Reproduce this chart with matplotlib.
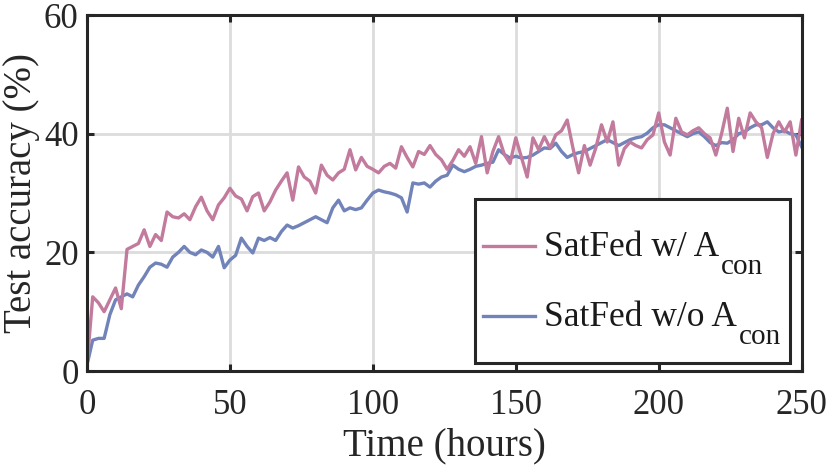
import numpy as np
import matplotlib
matplotlib.use("Agg")
import matplotlib.pyplot as plt
from matplotlib.patches import Rectangle
from matplotlib.transforms import IdentityTransform

plt.rcParams['font.family'] = ['Liberation Serif', 'DejaVu Serif']

# time in hours, one sample every 2 hours
tiempo = np.arange(0, 251, 2)

con_acon = [
    1.0, 12.5, 11.5, 10.0, 12.0, 14.0, 10.5, 20.5, 21.0, 21.5,
    23.8, 21.0, 23.0, 22.0, 26.8, 26.0, 25.8, 26.5, 25.5, 27.7,
    29.3, 27.0, 25.5, 28.0, 29.2, 30.8, 29.5, 29.0, 27.0, 29.4,
    30.0, 27.0, 28.5, 30.5, 32.0, 33.4, 28.8, 34.4, 32.7, 32.0,
    30.0, 34.7, 33.0, 32.2, 33.4, 34.0, 37.3, 33.9, 36.0, 34.5,
    34.0, 33.4, 34.5, 35.0, 34.2, 37.8, 36.0, 34.4, 37.0, 36.5,
    38.0, 36.5, 35.6, 34.0, 35.5, 37.3, 36.2, 37.8, 35.0, 39.5,
    33.4, 37.0, 39.5, 36.5, 35.0, 39.3, 36.0, 32.7, 39.3, 37.3,
    39.5, 37.6, 39.8, 40.5, 42.3, 37.6, 33.4, 38.0, 34.7, 37.6,
    41.5, 38.6, 42.0, 34.7, 37.5, 38.6, 38.0, 37.6, 39.0, 39.8,
    43.5, 38.6, 36.4, 42.6, 40.3, 39.8, 40.5, 41.0, 40.0, 39.3,
    36.4, 40.0, 44.3, 37.0, 42.6, 39.3, 43.5, 42.0, 41.0, 36.0,
    40.0, 42.0, 40.3, 42.0, 36.4, 42.3,
]

sin_acon = [
    1.0, 5.2, 5.5, 5.5, 9.5, 12.0, 12.5, 13.0, 12.5, 14.5,
    15.9, 17.5, 18.2, 18.0, 17.5, 19.2, 20.0, 21.0, 20.0, 19.6,
    20.4, 20.0, 19.2, 21.0, 17.4, 18.7, 19.5, 22.4, 21.0, 19.9,
    22.4, 22.0, 22.5, 22.0, 23.5, 24.6, 24.1, 24.5, 25.0, 25.5,
    26.0, 25.5, 25.0, 27.5, 28.8, 27.0, 27.5, 27.2, 27.5, 28.8,
    30.0, 30.5, 30.2, 30.0, 29.7, 29.2, 26.8, 31.7, 31.5, 31.7,
    31.0, 32.0, 32.7, 33.0, 34.7, 34.0, 33.6, 34.0, 34.5, 34.7,
    35.0, 35.2, 37.3, 36.5, 35.9, 36.2, 35.9, 36.0, 36.4, 37.0,
    37.6, 37.5, 38.4, 37.0, 36.0, 36.5, 36.8, 37.0, 37.5, 38.0,
    38.5, 39.0, 38.5, 38.0, 38.5, 39.0, 39.3, 39.5, 40.1, 41.0,
    41.5, 41.5, 41.0, 40.5, 40.0, 39.5, 40.0, 40.3, 39.5, 38.5,
    38.0, 38.5, 38.4, 39.0, 40.0, 40.3, 41.0, 41.5, 41.5, 42.0,
    41.0, 40.3, 40.5, 40.0, 39.8, 37.8,
]

etiquetas = ['SatFed w/ A', 'SatFed w/o A']
subindice = 'con'

color_con = '#C27A9D'
color_sin = '#7183B9'
borde = '#262626'

fig = plt.figure(figsize=(8.3, 4.7), dpi=100)
ax = fig.add_axes([0.1048, 0.2106, 0.861, 0.7574])

l_sin, = ax.plot(tiempo, sin_acon, color=color_sin, lw=2.4)
l_con, = ax.plot(tiempo, con_acon, color=color_con, lw=2.4)

ax.set_xlim(0, 250)
ax.set_ylim(0, 60)
ax.set_xticks([0, 50, 100, 150, 200, 250])
ax.set_yticks([0, 20, 40, 60])
ax.grid(True, color='#DCDCDC', lw=2.0)
ax.set_axisbelow(True)

for s in ax.spines.values():
    s.set_linewidth(2.2)
    s.set_color(borde)
ax.tick_params(direction='in', length=5, width=2.2, color=borde,
               top=True, right=True, labelsize=25, labelcolor=borde)
ax.tick_params(axis='x', pad=13)
ax.tick_params(axis='y', pad=6)

ax.set_xlabel('Time (hours)', fontsize=28, color=borde, labelpad=4)
ax.set_ylabel('Test accuracy (%)', fontsize=28, color=borde, labelpad=3)

# legend frame drawn separately so the padding matches
ax.add_patch(Rectangle((0.5427, 0.0225), 0.4405, 0.4606, transform=ax.transAxes,
                       facecolor='white', edgecolor=borde, lw=2.2, zorder=4))
leg = ax.legend([l_con, l_sin], etiquetas, loc='upper left',
                bbox_to_anchor=(0.5538, 0.394), fontsize=25.5, frameon=False,
                handlelength=1.47, handleheight=0.25, handletextpad=0.25,
                labelspacing=1.05, borderpad=0, borderaxespad=0)
leg.set_zorder(5)
for t in leg.get_texts():
    t.set_color('#1a1a1a')

# subscripts "con", lowered below the baseline of each label
fig.canvas.draw()
r = fig.canvas.get_renderer()
for t, txt in zip(leg.get_texts(), etiquetas):
    tmp = fig.text(0, 100, txt, fontsize=25.5, va='baseline',
                   transform=IdentityTransform())
    bb_tmp = tmp.get_window_extent(r)
    desc = 100 - bb_tmp.y0
    ancho = bb_tmp.width
    tmp.remove()
    bb = t.get_window_extent(r)
    fig.text(bb.x0 + ancho + 2, bb.y0 + desc - 18, subindice, fontsize=21,
             va='baseline', color='#1a1a1a', transform=IdentityTransform(),
             zorder=6)

fig.savefig('out.png', dpi=100)
